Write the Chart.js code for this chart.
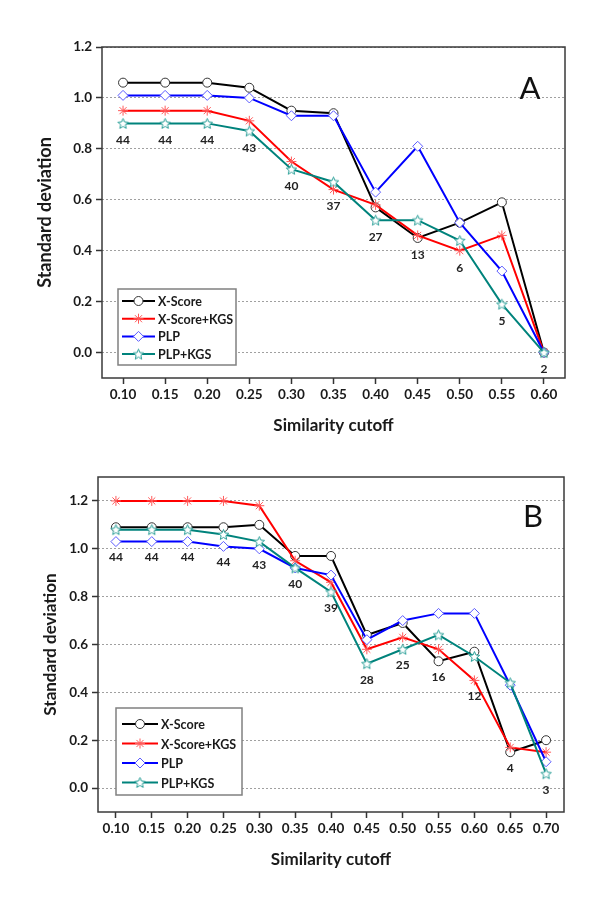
<!DOCTYPE html>
<html>
<head>
<meta charset="utf-8">
<script src="https://cdn.jsdelivr.net/npm/chart.js@4.4.1/dist/chart.umd.min.js"></script>
<style>
  html, body { margin: 0; padding: 0; background: #fff; }
  #wrap { position: relative; width: 600px; height: 907px; }
  .panel { position: absolute; left: 0; width: 600px; }
</style>
</head>
<body>
<div id="wrap">
  <div class="panel" style="top:0;height:453px"><canvas id="chartA"></canvas></div>
  <div class="panel" style="top:453px;height:454px"><canvas id="chartB"></canvas></div>
</div>
<script>
// Panel A data
const cutoffsA = ['0.10', '0.15', '0.20', '0.25', '0.30', '0.35', '0.40', '0.45', '0.50', '0.55', '0.60'];
const xscoreA = [1.06, 1.06, 1.06, 1.04, 0.95, 0.94, 0.57, 0.45, 0.51, 0.59, 0.00];
const xscoreKgsA = [0.95, 0.95, 0.95, 0.91, 0.75, 0.64, 0.58, 0.46, 0.40, 0.46, 0.00];
const plpA = [1.01, 1.01, 1.01, 1.00, 0.93, 0.93, 0.63, 0.81, 0.51, 0.32, 0.00];
const plpKgsA = [0.90, 0.90, 0.90, 0.87, 0.72, 0.67, 0.52, 0.52, 0.44, 0.19, 0.00];
const countsA = [44, 44, 44, 43, 40, 37, 27, 13, 6, 5, 2];
const yTicksA = [0, 0.2, 0.4, 0.6, 0.8, 1.0, 1.2];

// Panel B data
const cutoffsB = ['0.10', '0.15', '0.20', '0.25', '0.30', '0.35', '0.40', '0.45', '0.50', '0.55', '0.60', '0.65', '0.70'];
const xscoreB = [1.09, 1.09, 1.09, 1.09, 1.10, 0.97, 0.97, 0.64, 0.69, 0.53, 0.57, 0.15, 0.20];
const xscoreKgsB = [1.20, 1.20, 1.20, 1.20, 1.18, 0.95, 0.86, 0.58, 0.63, 0.58, 0.45, 0.17, 0.15];
const plpB = [1.03, 1.03, 1.03, 1.01, 1.00, 0.92, 0.89, 0.62, 0.70, 0.73, 0.73, 0.43, 0.11];
const plpKgsB = [1.08, 1.08, 1.08, 1.06, 1.03, 0.92, 0.82, 0.52, 0.58, 0.64, 0.55, 0.44, 0.06];
const countsB = [44, 44, 44, 44, 43, 40, 39, 28, 25, 16, 12, 4, 3];
const yTicksB = [0, 0.2, 0.4, 0.6, 0.8, 1.0, 1.2];

const seriesNames = ['X-Score', 'X-Score+KGS', 'PLP', 'PLP+KGS'];

Chart.defaults.font.family = 'Lato';
Chart.defaults.color = '#1a1a1a';

// open five-pointed star used as point style
const makeStar = (color, r) => {
  const c = document.createElement('canvas');
  const s = Math.ceil(r * 2 + 4);
  c.width = s; c.height = s;
  const ctx = c.getContext('2d');
  const cx = s / 2, cy = s / 2 + 0.5, ri = r * 0.45;
  ctx.beginPath();
  for (let i = 0; i < 10; i++) {
    const rad = i % 2 ? ri : r;
    const a = -Math.PI / 2 + i * Math.PI / 5;
    const px = cx + rad * Math.cos(a), py = cy + rad * Math.sin(a);
    i ? ctx.lineTo(px, py) : ctx.moveTo(px, py);
  }
  ctx.closePath();
  ctx.fillStyle = '#fff';
  ctx.fill();
  ctx.lineWidth = 1;
  ctx.strokeStyle = color;
  ctx.stroke();
  return c;
};
const starImg = makeStar('#2a9f98', 5.5);

const styles = [
  { line: '#000000', pt: '#333333', style: 'circle', r: 4.5 },
  { line: '#ff0000', pt: '#ff5a5a', style: 'star', r: 5 },
  { line: '#0000ff', pt: '#5a5aff', style: 'rectRot', r: 5 },
  { line: '#00837c', pt: '#2a9f98', style: starImg, r: 5.5 }
];

const drawMarker = (ctx, st, x, y) => {
  ctx.save();
  ctx.lineWidth = 1;
  ctx.strokeStyle = st.pt;
  ctx.fillStyle = '#fff';
  const r = st.r;
  if (st.style instanceof HTMLCanvasElement) {
    ctx.drawImage(st.style, x - st.style.width / 2, y - st.style.height / 2);
  } else if (st.style === 'circle') {
    ctx.beginPath(); ctx.arc(x, y, r, 0, Math.PI * 2); ctx.fill(); ctx.stroke();
  } else if (st.style === 'rectRot') {
    ctx.beginPath();
    ctx.moveTo(x, y - r); ctx.lineTo(x + r, y); ctx.lineTo(x, y + r); ctx.lineTo(x - r, y);
    ctx.closePath(); ctx.fill(); ctx.stroke();
  } else if (st.style === 'star') {
    ctx.beginPath();
    ctx.moveTo(x - r, y); ctx.lineTo(x + r, y);
    ctx.moveTo(x, y - r); ctx.lineTo(x, y + r);
    const d = r * Math.SQRT1_2;
    ctx.moveTo(x - d, y - d); ctx.lineTo(x + d, y + d);
    ctx.moveTo(x - d, y + d); ctx.lineTo(x + d, y - d);
    ctx.stroke();
  }
  ctx.restore();
};

// frame, legend box, case counts and panel letter
const decorPlugin = {
  id: 'decor',
  beforeDatasetsDraw(chart, args, opts) {
    const { ctx, chartArea: a } = chart;
    ctx.save();
    ctx.strokeStyle = '#3a3a3a';
    ctx.lineWidth = 1.5;
    ctx.strokeRect(a.left, a.top, a.right - a.left, a.bottom - a.top);
    ctx.restore();
  },
  afterDraw(chart, args, opts) {
    const { ctx, chartArea: a, scales } = chart;
    ctx.save();
    // counts under the lowest point of each cutoff
    ctx.font = 'bold 12px Lato';
    ctx.fillStyle = '#222';
    ctx.textAlign = 'center';
    ctx.textBaseline = 'middle';
    opts.counts.forEach((n, i) => {
      const low = Math.min(...chart.data.datasets.map(d => d.data[i]));
      ctx.fillText(String(n), scales.x.getPixelForValue(i), scales.y.getPixelForValue(low) + opts.countGap);
    });
    // panel letter
    ctx.font = '31px Lato';
    ctx.fillStyle = '#111';
    ctx.fillText(opts.letter, a.right - opts.letterDx, a.top + opts.letterDy);
    // legend
    const L = opts.legend;
    const bx = a.left + L.dx, by = a.bottom - L.dy - L.h;
    ctx.fillStyle = '#fff';
    ctx.fillRect(bx, by, L.w, L.h);
    ctx.strokeStyle = '#808080';
    ctx.lineWidth = 1.5;
    ctx.strokeRect(bx, by, L.w, L.h);
    ctx.font = 'bold 12.5px Lato';
    ctx.textAlign = 'left';
    seriesNames.forEach((name, i) => {
      const y = by + L.first + i * L.row;
      const st = styles[i];
      ctx.strokeStyle = st.line;
      ctx.lineWidth = 2;
      ctx.beginPath();
      ctx.moveTo(bx + L.x0, y); ctx.lineTo(bx + L.x1, y);
      ctx.stroke();
      drawMarker(ctx, st, bx + (L.x0 + L.x1) / 2, y);
      ctx.fillStyle = '#1a1a1a';
      ctx.fillText(name, bx + L.tx, y + 1);
    });
    ctx.restore();
  }
};

const makeChart = (node, cfg) => new Chart(node, {
  type: 'line',
  data: {
    labels: cfg.labels,
    datasets: cfg.series.map((data, i) => ({
      label: seriesNames[i],
      data,
      borderColor: styles[i].line,
      borderWidth: 2,
      pointStyle: styles[i].style,
      pointRadius: styles[i].r,
      pointBorderColor: styles[i].pt,
      pointBackgroundColor: '#fff',
      pointBorderWidth: 1,
      tension: 0,
      order: 4 - i
    }))
  },
  options: {
    responsive: true,
    maintainAspectRatio: false,
    animation: false,
    layout: { padding: cfg.padding },
    plugins: {
      legend: { display: false },
      tooltip: { enabled: false },
      decor: cfg.decor
    },
    scales: {
      x: {
        type: 'category',
        offset: true,
        afterFit: (s) => { s.height = cfg.xHeight; },
        grid: { drawOnChartArea: false, drawTicks: true, tickLength: 6, tickColor: '#333', tickWidth: 1.5 },
        border: { display: false },
        ticks: { maxRotation: 0, autoSkip: false, padding: 3, color: '#1a1a1a', font: { size: 13.5, weight: 'bold' } },
        title: { display: true, text: 'Similarity cutoff', color: '#1a1a1a', font: { size: 17, weight: 'bold' }, padding: { top: 0, bottom: cfg.xTitlePad } }
      },
      y: {
        min: cfg.yMin,
        max: cfg.yMax,
        afterFit: (s) => { s.width = cfg.yWidth; },
        afterBuildTicks: (s) => { s.ticks = cfg.yTicks.map(v => ({ value: v })); },
        grid: { color: '#a0a0a0', lineWidth: 1, drawTicks: true, tickLength: 6, tickColor: '#333', tickWidth: 1.5, tickBorderDash: [] },
        border: { display: false, dash: [2, 2] },
        ticks: { padding: 4, color: '#1a1a1a', font: { size: 13.5, weight: 'bold' }, callback: (v) => v.toFixed(1) },
        title: { display: true, text: 'Standard deviation', color: '#1a1a1a', font: { size: cfg.yTitleSize, weight: 'bold' }, padding: { top: cfg.yTitlePad, bottom: 0 } }
      }
    }
  },
  plugins: [decorPlugin]
});

makeChart(document.getElementById('chartA'), {
  labels: cutoffsA,
  series: [xscoreA, xscoreKgsA, plpA, plpKgsA],
  padding: { top: 47, right: 35, left: 0, bottom: 0 },
  xHeight: 75, yWidth: 102, xTitlePad: 17,
  yMin: -0.1, yMax: 1.2, yTicks: yTicksA,
  yTitleSize: 18, yTitlePad: 34,
  decor: {
    counts: countsA, countGap: 17, letter: 'A', letterDx: 35, letterDy: 42,
    legend: { dx: 16, dy: 13, w: 118, h: 76, first: 12, row: 17.7, x0: 4, x1: 37, tx: 40 }
  }
});

makeChart(document.getElementById('chartB'), {
  labels: cutoffsB,
  series: [xscoreB, xscoreKgsB, plpB, plpKgsB],
  padding: { top: 24, right: 36, left: 0, bottom: 0 },
  xHeight: 95, yWidth: 98, xTitlePad: 37,
  yMin: -0.1, yMax: 1.3, yTicks: yTicksB,
  yTitleSize: 17, yTitlePad: 40,
  decor: {
    counts: countsB, countGap: 16, letter: 'B', letterDx: 31, letterDy: 40,
    legend: { dx: 18, dy: 17, w: 126, h: 87, first: 16, row: 19.5, x0: 6, x1: 42, tx: 45 }
  }
});
</script>
</body>
</html>
